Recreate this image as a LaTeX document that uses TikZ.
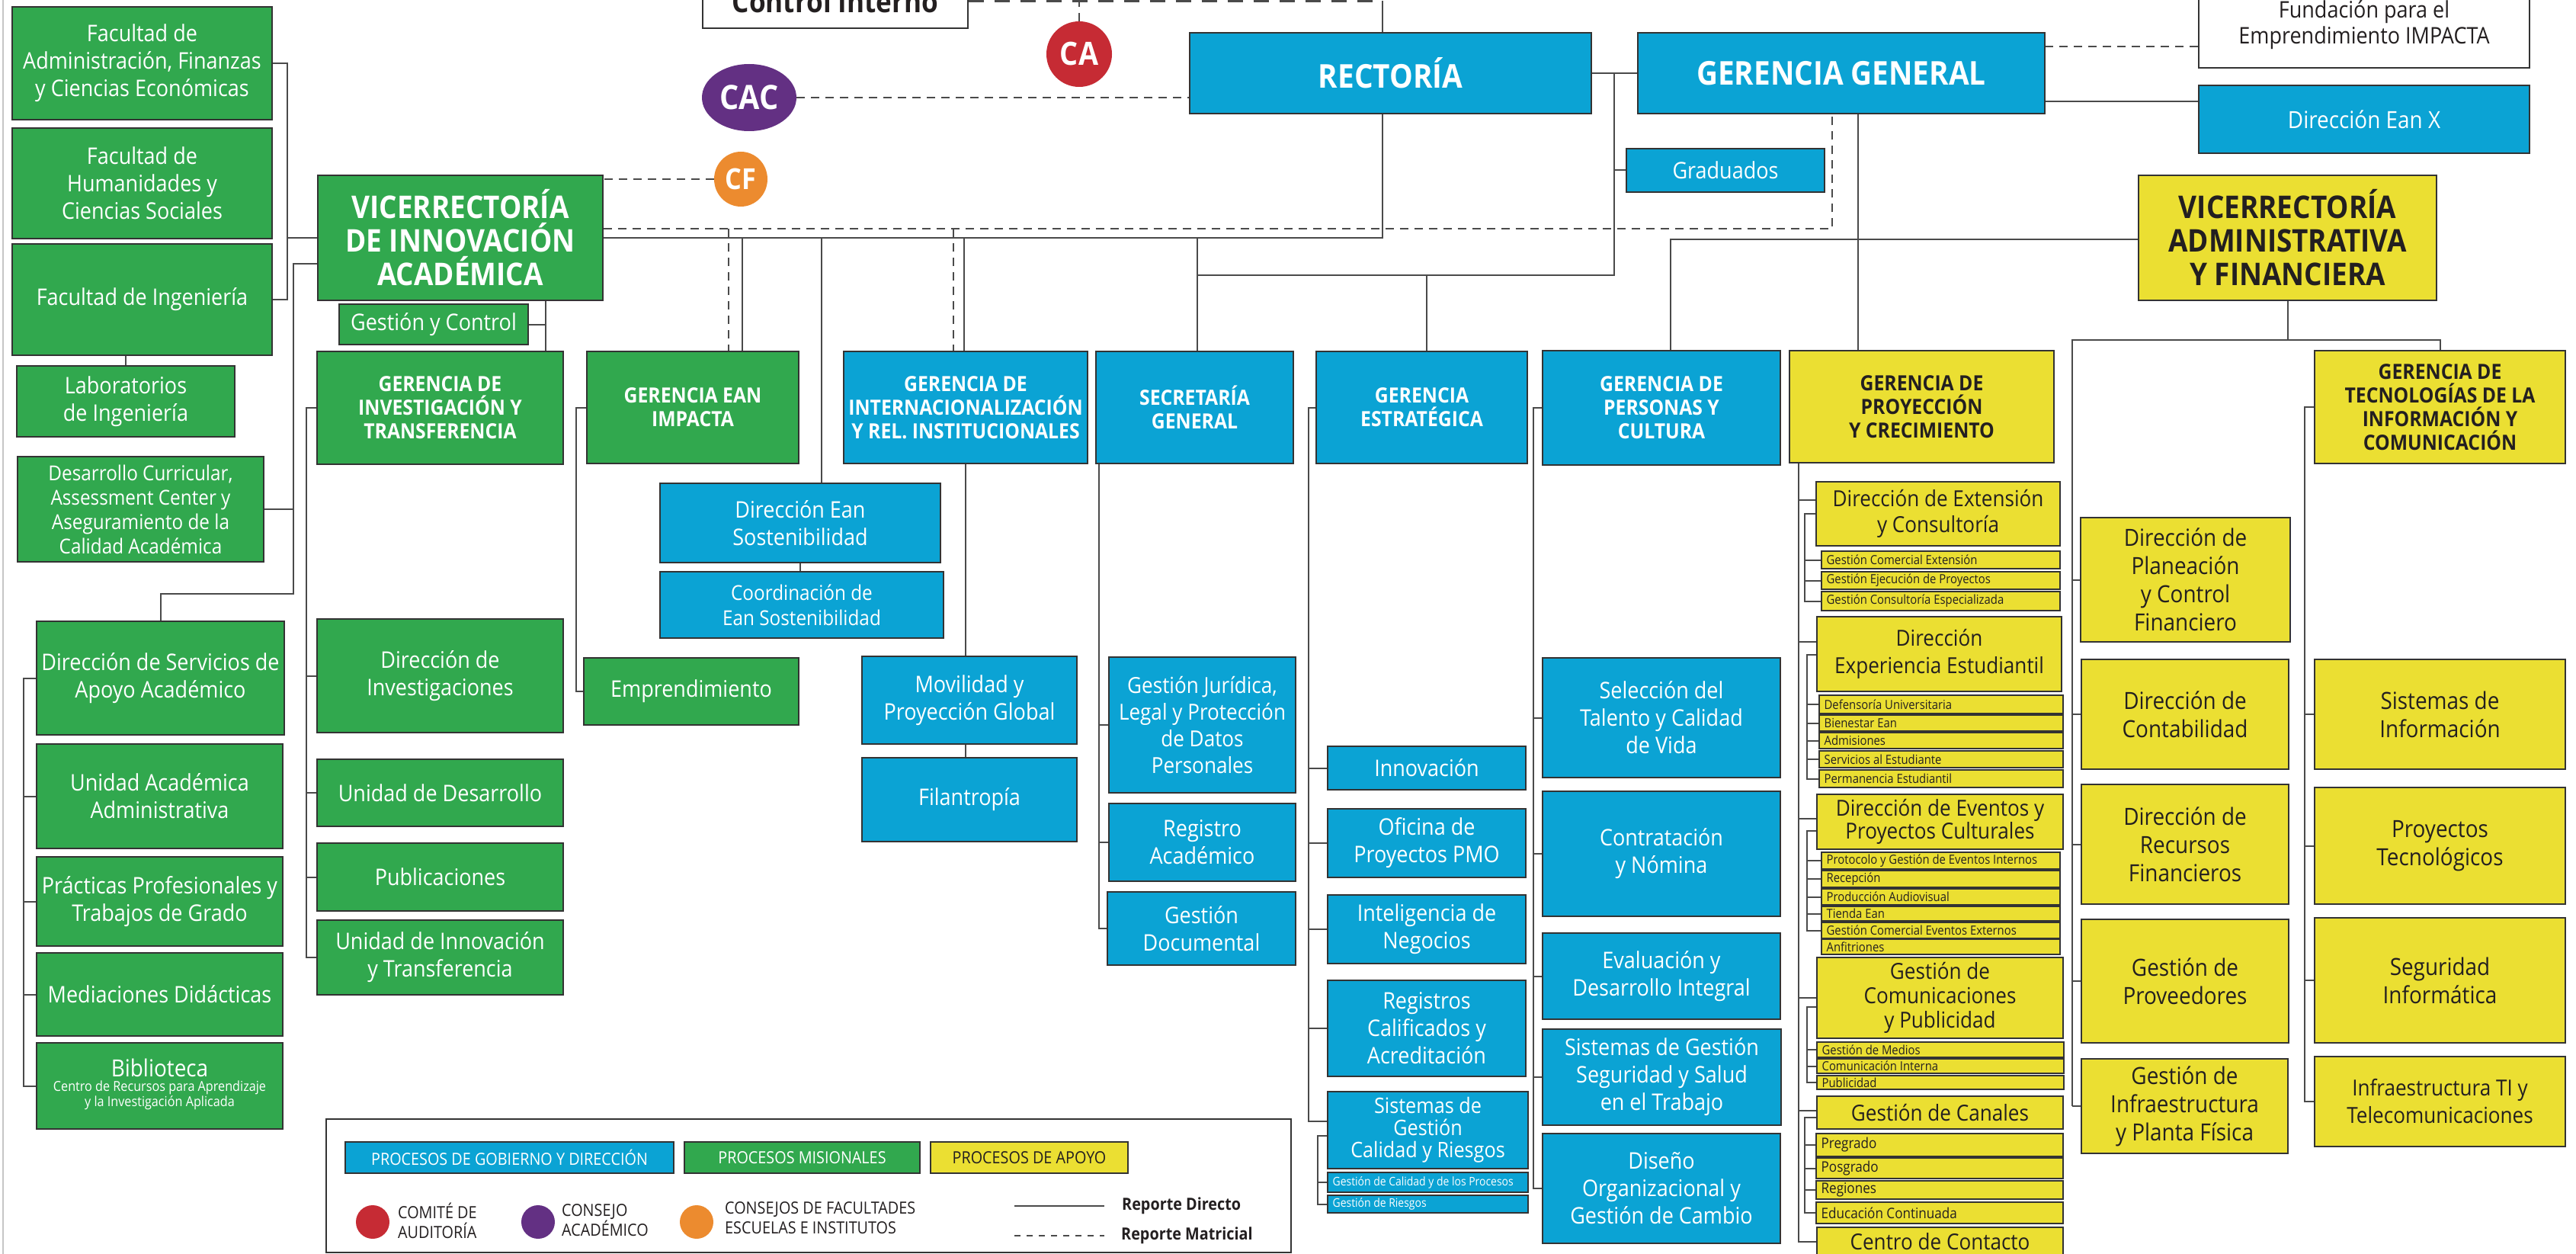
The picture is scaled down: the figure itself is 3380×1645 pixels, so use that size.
\documentclass[tikz,border=0pt]{standalone}
\usepackage{fontspec}
\setmainfont{Open Sans}[FakeStretch=0.9]
\usetikzlibrary{shapes.geometric}
\pgfdeclarelayer{bg}
\pgfsetlayers{bg,main}
\definecolor{cblue}{HTML}{0BA3D4}
\definecolor{cgreen}{HTML}{31A84E}
\definecolor{cyel}{HTML}{EBDF32}
\definecolor{cred}{HTML}{C62B34}
\definecolor{cpur}{HTML}{633083}
\definecolor{corg}{HTML}{EC8B2F}
\definecolor{ctxt}{HTML}{231F20}
\definecolor{bd}{HTML}{333333}
\definecolor{lc}{HTML}{4A4A4A}
\newcommand\fs[2]{\fontsize{#1}{#2}\selectfont}
\newcommand\bx[7]{\node[#6, minimum width={(#4)-(#2)}, minimum height={(#5)-(#3)}] (#1) at ({((#2)+(#4))/2},{((#3)+(#5))/2}) {#7};}
\newcommand\sbx[7]{\node[#6, minimum width={(#4)-(#2)}, minimum height={(#5)-(#3)}] (#1) at ({((#2)+(#4))/2},{((#3)+(#5))/2}) {};\node[anchor=west, inner sep=0pt, #6txt] (#1t) at ([xshift=7pt]#1.west) {#7};}
\begin{document}
\begin{tikzpicture}[x=1pt,y=-1pt,
  bb/.style={rectangle, draw=bd, line width=1.4pt, inner sep=1pt, align=center},
  gr/.style={bb, fill=cgreen, text=white, font=\fs{30}{36}},
  bl/.style={bb, fill=cblue, text=white, font=\fs{30}{36}},
  ye/.style={bb, fill=cyel, text=ctxt, font=\fs{30}{36}},
  yv/.style={bb, fill=cyel, text=ctxt, font=\fs{31}{37}},
  wh/.style={bb, fill=white, text=ctxt, font=\fs{30}{34}},
  hd/.style={font=\bfseries\fs{27.5}{31}},
  big/.style={font=\bfseries\fs{41}{44}},
  ys/.style={rectangle, draw=bd, line width=1.2pt, fill=cyel, inner sep=0pt},
  yc/.style={rectangle, draw=bd, line width=1.2pt, fill=cyel, inner sep=0pt},
  bs/.style={rectangle, draw=bd, line width=1.2pt, fill=cblue, inner sep=0pt},
  ystxt/.style={text=ctxt, font=\fs{16.5}{18}},
  yctxt/.style={text=ctxt, font=\fs{19}{20}},
  bstxt/.style={text=white, font=\fs{15.5}{17}},
  ltxt/.style={anchor=west, align=left, text=ctxt, font=\fs{22}{26}, inner sep=0pt},
  ln/.style={draw=lc, line width=2pt},
  dl/.style={draw=lc, line width=2pt, dash pattern=on 11pt off 8pt}]
\useasboundingbox (0,0) rectangle (3380,1645);
% ---------- green column ----------
\bx{fa}{16}{9}{357}{157}{gr}{Facultad de\\Administración, Finanzas\\y Ciencias Económicas}
\bx{fh}{16}{168}{357}{313}{gr}{Facultad de\\Humanidades y\\Ciencias Sociales}
\bx{fi}{16}{320}{357}{466}{gr}{Facultad de Ingeniería}
\bx{lab}{22}{480}{308}{573}{gr}{Laboratorios\\de Ingeniería}
\bx{dc}{23}{599}{346}{737}{gr,font=\fs{27}{32}}{Desarrollo Curricular,\\Assessment Center y\\Aseguramiento de la\\Calidad Académica}
\bx{ds}{48}{815}{373}{964}{gr}{Dirección de Servicios de\\Apoyo Académico}
\bx{ua}{48}{976}{371}{1113}{gr}{Unidad Académica\\Administrativa}
\bx{pp}{48}{1124}{371}{1241}{gr}{Prácticas Profesionales y\\Trabajos de Grado}
\bx{md}{48}{1250}{371}{1359}{gr}{Mediaciones Didácticas}
\bx{bib}{48}{1368}{371}{1481}{gr}{}
\node[text=white, font=\fs{31}{32}, inner sep=0pt] (bibt) at ([yshift=24pt]bib.center) {Biblioteca};
\node[text=white, font=\fs{18}{20}, align=center, inner sep=0pt] (bibs) at ([yshift=-12pt]bib.center) {Centro de Recursos para Aprendizaje\\y la Investigación Aplicada};
\bx{via}{417}{230}{791}{394}{gr,big}{VICERRECTORÍA\\DE INNOVACIÓN\\ACADÉMICA}
\bx{gyc}{445}{399}{693}{452}{gr}{Gestión y Control}
\bx{git}{416}{461}{739}{609}{gr,hd}{GERENCIA DE\\INVESTIGACIÓN Y\\TRANSFERENCIA}
\bx{di}{416}{812}{739}{961}{gr}{Dirección de\\Investigaciones}
\bx{ud}{416}{996}{739}{1084}{gr}{Unidad de Desarrollo}
\bx{pub}{416}{1106}{739}{1195}{gr}{Publicaciones}
\bx{uit}{416}{1207}{739}{1305}{gr}{Unidad de Innovación\\y Transferencia}
\bx{gei}{770}{461}{1048}{608}{gr,hd}{GERENCIA EAN\\IMPACTA}
\bx{emp}{766}{863}{1048}{951}{gr}{Emprendimiento}
% ---------- top ----------
\bx{ci}{922}{-34}{1270}{37}{wh,font=\bfseries\fs{39}{40}}{Control Interno}
\node[circle, fill=cred, minimum size=86pt, inner sep=0pt, text=white, font=\bfseries\fs{42}{42}] (ca) at (1416,71) {CA};
\node[ellipse, fill=cpur, minimum width=124pt, minimum height=88pt, inner sep=0pt, text=white, font=\bfseries\fs{44}{44}] (cac) at (983,128) {CAC};
\node[ellipse, fill=corg, minimum width=70pt, minimum height=72pt, inner sep=0pt, text=white, font=\bfseries\fs{38}{38}] (cf) at (972,235) {CF};
\bx{rect}{1561}{43}{2088}{149}{bl,font=\bfseries\fs{43}{44}}{RECTORÍA}
\bx{gg}{2149}{43}{2683}{149}{bl,font=\bfseries\fs{43}{44}}{GERENCIA GENERAL}
\bx{grad}{2134}{195}{2394}{252}{bl}{Graduados}
\bx{fund}{2885}{-24}{3319}{89}{wh}{Fundación para el\\Emprendimiento IMPACTA}
\bx{eanx}{2885}{112}{3319}{201}{bl,font=\fs{31}{36}}{Dirección Ean X}
\bx{vaf}{2806}{230}{3197}{394}{ye,big}{VICERRECTORÍA\\ADMINISTRATIVA\\Y FINANCIERA}
% ---------- blue columns ----------
\bx{girel}{1107}{461}{1427}{608}{bl,hd}{GERENCIA DE\\INTERNACIONALIZACIÓN\\Y REL. INSTITUCIONALES}
\bx{sg}{1438}{461}{1697}{608}{bl,hd}{SECRETARÍA\\GENERAL}
\bx{ge}{1727}{461}{2004}{608}{bl,hd}{GERENCIA\\ESTRATÉGICA}
\bx{gpy}{2024}{460}{2336}{610}{bl,hd}{GERENCIA DE\\PERSONAS Y\\CULTURA}
\bx{des}{866}{634}{1234}{738}{bl}{Dirección Ean\\Sostenibilidad}
\bx{coord}{866}{750}{1238}{837}{bl,font=\fs{27}{33}}{Coordinación de\\Ean Sostenibilidad}
\bx{mov}{1131}{861}{1413}{976}{bl}{Movilidad y\\Proyección Global}
\bx{fil}{1131}{994}{1413}{1104}{bl}{Filantropía}
\bx{gj}{1455}{862}{1700}{1040}{bl,font=\fs{29}{35}}{Gestión Jurídica,\\Legal y Protección\\de Datos\\Personales}
\bx{ra}{1455}{1054}{1700}{1156}{bl}{Registro\\Académico}
\bx{gd}{1453}{1170}{1700}{1266}{bl}{Gestión\\Documental}
\bx{inn}{1742}{979}{2002}{1036}{bl}{Innovación}
\bx{pmo}{1742}{1061}{2002}{1151}{bl}{Oficina de\\Proyectos PMO}
\bx{ign}{1742}{1174}{2002}{1264}{bl}{Inteligencia de\\Negocios}
\bx{rca}{1742}{1286}{2002}{1412}{bl}{Registros\\Calificados y\\Acreditación}
\bx{sgc}{1742}{1432}{2005}{1533}{bl,font=\fs{28}{29}}{Sistemas de\\Gestión\\Calidad y Riesgos}
\sbx{gcp}{1742}{1538}{2005}{1564}{bs}{Gestión de Calidad y de los Procesos}
\sbx{gri}{1742}{1568}{2005}{1591}{bs}{Gestión de Riesgos}
\bx{sel}{2024}{863}{2336}{1020}{bl}{Selección del\\Talento y Calidad\\de Vida}
\bx{con}{2024}{1038}{2336}{1202}{bl}{Contratación\\y Nómina}
\bx{eva}{2024}{1224}{2336}{1337}{bl}{Evaluación y\\Desarrollo Integral}
\bx{sst}{2024}{1350}{2337}{1476}{bl}{Sistemas de Gestión\\Seguridad y Salud\\en el Trabajo}
\bx{dis}{2024}{1487}{2336}{1631}{bl}{Diseño\\Organizacional y\\Gestión de Cambio}
% ---------- yellow ----------
\bx{gpc}{2348}{460}{2695}{607}{ye,hd}{GERENCIA DE\\PROYECCIÓN\\Y CRECIMIENTO}
\bx{gtic}{3037}{460}{3366}{608}{ye,hd}{GERENCIA DE\\TECNOLOGÍAS DE LA\\INFORMACIÓN Y\\COMUNICACIÓN}
\bx{dext}{2383}{632}{2703}{716}{ye,font=\fs{29}{34}}{Dirección de Extensión\\y Consultoría}
\sbx{gce}{2390}{723}{2703}{746}{ys}{Gestión Comercial Extensión}
\sbx{gep}{2390}{750}{2703}{773}{ys}{Gestión Ejecución de Proyectos}
\sbx{gco}{2390}{776}{2703}{801}{ys}{Gestión Consultoría Especializada}
\bx{dexp}{2384}{809}{2705}{907}{ye,font=\fs{29}{36}}{Dirección\\Experiencia Estudiantil}
\sbx{dfu}{2387}{912}{2707}{936}{ys}{Defensoría Universitaria}
\sbx{bie}{2387}{938}{2707}{959}{ys}{Bienestar Ean}
\sbx{adm}{2387}{961}{2707}{982}{ys}{Admisiones}
\sbx{sae}{2387}{985}{2707}{1007}{ys}{Servicios al Estudiante}
\sbx{pes}{2387}{1010}{2707}{1033}{ys}{Permanencia Estudiantil}
\bx{dev}{2384}{1042}{2707}{1114}{ye,font=\fs{29}{30}}{Dirección de Eventos y\\Proyectos Culturales}
\sbx{pro}{2390}{1118}{2703}{1140}{ys}{Protocolo y Gestión de Eventos Internos}
\sbx{rcp}{2390}{1142}{2703}{1164}{ys}{Recepción}
\sbx{pau}{2390}{1166}{2703}{1187}{ys}{Producción Audiovisual}
\sbx{tea}{2390}{1189}{2703}{1208}{ys}{Tienda Ean}
\sbx{gcee}{2390}{1210}{2703}{1231}{ys}{Gestión Comercial Eventos Externos}
\sbx{anf}{2390}{1232}{2703}{1252}{ys}{Anfitriones}
\bx{gcom}{2384}{1256}{2707}{1362}{ye,font=\fs{29}{32}}{Gestión de\\Comunicaciones\\y Publicidad}
\sbx{gme}{2384}{1367}{2708}{1387}{ys}{Gestión de Medios}
\sbx{cin}{2384}{1389}{2708}{1408}{ys}{Comunicación Interna}
\sbx{pubi}{2384}{1411}{2708}{1429}{ys}{Publicidad}
\bx{gcan}{2384}{1438}{2707}{1481}{ye,font=\fs{29}{32}}{Gestión de Canales}
\sbx{prg}{2383}{1487}{2707}{1517}{yc}{Pregrado}
\sbx{psg}{2383}{1519}{2707}{1546}{yc}{Posgrado}
\sbx{rgn}{2383}{1549}{2707}{1573}{yc}{Regiones}
\sbx{edu}{2383}{1577}{2707}{1605}{yc}{Educación Continuada}
\bx{cc}{2384}{1610}{2707}{1647}{ye,font=\fs{29}{32}}{Centro de Contacto}
\bx{dpl}{2730}{679}{3005}{842}{yv}{Dirección de\\Planeación\\y Control\\Financiero}
\bx{dco}{2731}{865}{3003}{1009}{yv}{Dirección de\\Contabilidad}
\bx{drf}{2731}{1029}{3003}{1186}{yv}{Dirección de\\Recursos\\Financieros}
\bx{gpr}{2731}{1206}{3003}{1368}{yv}{Gestión de\\Proveedores}
\bx{gif}{2731}{1389}{3002}{1513}{yv}{Gestión de\\Infraestructura\\y Planta Física}
\bx{sdi}{3037}{865}{3366}{1009}{yv}{Sistemas de\\Información}
\bx{ptec}{3037}{1033}{3366}{1186}{yv}{Proyectos\\Tecnológicos}
\bx{sinf}{3037}{1204}{3366}{1368}{yv}{Seguridad\\Informática}
\bx{iti}{3037}{1386}{3366}{1504}{yv,font=\fs{29}{36}}{Infraestructura TI y\\Telecomunicaciones}
% ---------- legend ----------
\bx{lg}{428}{1468}{1694}{1643}{rectangle, draw=bd, line width=1.4pt, fill=white}{}
\bx{lgob}{453}{1498}{884}{1539}{bl,font=\fs{22}{24}}{PROCESOS DE GOBIERNO Y DIRECCIÓN}
\bx{lmis}{898}{1498}{1207}{1539}{gr,font=\fs{22}{24}}{PROCESOS MISIONALES}
\bx{lapo}{1221}{1498}{1480}{1539}{ye,font=\fs{22}{24}}{PROCESOS DE APOYO}
\node[circle, fill=cred, minimum size=44pt, inner sep=0pt] (lca) at (489,1603) {};
\node[ltxt] (lcat) at (522,1601) {COMITÉ DE\\AUDITORÍA};
\node[circle, fill=cpur, minimum size=44pt, inner sep=0pt] (lcac) at (706,1603) {};
\node[ltxt] (lcact) at (737,1601) {CONSEJO\\ACADÉMICO};
\node[circle, fill=corg, minimum size=44pt, inner sep=0pt] (lcf) at (914,1603) {};
\node[ltxt] (lcft) at (951,1598) {CONSEJOS DE FACULTADES\\ESCUELAS E INSTITUTOS};
\coordinate (lr1) at (1331,1582); \coordinate (lr2) at (1449,1582);
\coordinate (lm1) at (1331,1621); \coordinate (lm2) at (1449,1621);
\node[anchor=west, font=\bfseries\fs{22}{24}, text=ctxt, inner sep=0pt] (lrdt) at (1472,1582) {Reporte Directo};
\node[anchor=west, font=\bfseries\fs{22}{24}, text=ctxt, inner sep=0pt] (lrmt) at (1471,1621) {Reporte Matricial};
\draw[ln, line width=2.5pt] (lr1) -- (lr2);
\draw[dl, dash pattern=on 8pt off 8pt] (lm1) -- (lm2);
% ---------- background and connectors ----------
\begin{pgfonlayer}{bg}
\fill[white] (0,0) rectangle (3380,1645);
\draw[draw=gray!45, line width=2pt] (4,0) -- (4,1645);
% faculties
\coordinate (fbx) at (377,200);
\draw[ln] (fa.east) -| (fbx) |- (fi.east);
\draw[ln] (via.west) -- (via.west -| fbx);
\draw[ln] (lab.north) -- (lab.north |- fi.south);
% VIA to GIT and Gestion y Control
\coordinate (vg) at (716,420);
\draw[ln] (via.south -| vg) -- (git.north -| vg);
\draw[ln] (gyc.east) -- (gyc.east -| vg);
% VIA to DS
\coordinate (vw) at (385,346);
\coordinate (vb) at (385,779);
\draw[ln] (vw -| via.west) -- (vw) -- (vb) -| (ds.north);
\draw[ln] (dc.east) -- (dc.east -| vb);
\coordinate (dsb) at (31,900);
\draw[ln] (ds.west) -| (bib.west -| dsb) -- (bib.west);
\foreach \n in {ua,pp,md} \draw[ln] (\n.west) -- (\n.west -| dsb);
\coordinate (gb) at (402,600);
\draw[ln] (git.west) -| (uit.west -| gb) -- (uit.west);
\foreach \n in {di,ud,pub} \draw[ln] (\n.west) -- (\n.west -| gb);
\coordinate (eb) at (756,600);
\draw[ln] (gei.west) -| (emp.west -| eb) -- (emp.west);
% main horizontal from VIA to Rectoria
\coordinate (rv) at (1814,312);
\draw[ln] (via.east) -- (rv) -- (rv |- rect.south);
\coordinate (v1) at (974,312); \draw[ln] (v1) -- (v1 |- gei.north);
\coordinate (v2) at (1078,312); \draw[ln] (v2) -- (v2 |- des.north);
\coordinate (v3) at (1265,312); \draw[ln] (v3) -- (v3 |- girel.north);
\coordinate (v4) at (1571,312); \draw[ln] (v4) -- (v4 |- sg.north);
\coordinate (h2a) at (1571,361); \coordinate (h2b) at (2118,361);
\coordinate (h2c) at (2118,96);
\draw[ln] (h2a) -- (h2b) -- (h2c);
\draw[ln] (rect.east) -- (gg.west);
\draw[ln] (grad.west) -- (grad.west -| h2b);
\coordinate (v5) at (1872,361); \draw[ln] (v5) -- (v5 |- ge.north);
% Gerencia General
\coordinate (g1) at (2438,300); \draw[ln] (g1 |- gg.south) -- (g1 |- gpc.north);
\coordinate (g2) at (2192,314); \draw[ln] (g2 |- gpy.north) -- (g2) -- (g2 -| vaf.west);
\coordinate (exj) at (2683,133); \draw[ln] (exj) -- (exj -| eanx.west);
% VAF
\coordinate (vl) at (2719,446);
\coordinate (vr) at (3202,446);
\draw[ln] (vaf.south) -- (vaf.south |- vl);
\draw[ln] (vl |- gif.west) -- (vl) -- (vr) -- (vr |- gtic.north);
\foreach \n in {dpl,dco,drf,gpr,gif} \draw[ln] (\n.west) -- (\n.west -| vl);
\coordinate (tb) at (3024,600);
\draw[ln] (gtic.west) -| (iti.west -| tb) -- (iti.west);
\foreach \n in {sdi,ptec,sinf} \draw[ln] (\n.west) -- (\n.west -| tb);
% GIREL, Ean sostenibilidad
\draw[ln] (girel.south) -- (girel.south |- mov.north);
\draw[ln] (mov.south -| girel.south) -- (fil.north -| girel.south);
\draw[ln] (des.south) -- (des.south |- coord.north);
% Secretaria General
\coordinate (sgb) at (1442,700);
\draw[ln] (sg.south -| sgb) |- (gd.west);
\foreach \n in {gj,ra} \draw[ln] (\n.west) -- (\n.west -| sgb);
% Gerencia Estrategica
\coordinate (geb) at (1717,1471);
\draw[ln] (ge.west) -| (geb) -- (geb -| sgc.west);
\foreach \n in {inn,pmo,ign,rca} \draw[ln] (\n.west) -- (\n.west -| geb);
\coordinate (ges) at (1729,1490);
\draw[ln] (ges -| sgc.west) -- (ges) |- (gri.west);
\draw[ln] (gcp.west) -- (gcp.west -| ges);
% Personas y Cultura
\coordinate (pyb) at (2012,700);
\draw[ln] (gpy.west) -| (dis.west -| pyb) -- (dis.west);
\foreach \n in {sel,con,eva,sst} \draw[ln] (\n.west) -- (\n.west -| pyb);
% Proyeccion y Crecimiento
\coordinate (pcb) at (2360,607);
\draw[ln] (pcb) |- (cc.west);
\coordinate (pb1) at (2360,656); \draw[ln] (pb1) -- (pb1 -| dext.west);
\coordinate (pb2) at (2360,842); \draw[ln] (pb2) -- (pb2 -| dexp.west);
\coordinate (pb3) at (2360,1074); \draw[ln] (pb3) -- (pb3 -| dev.west);
\draw[ln] (gcom.west) -- (gcom.west -| pcb);
\coordinate (pb5) at (2360,1457); \draw[ln] (pb5) -- (pb5 -| gcan.west);
\coordinate (s1) at (2368,674);
\draw[ln] (s1 -| dext.west) -- (s1) |- (gco.west);
\foreach \n in {gce,gep} \draw[ln] (\n.west) -- (\n.west -| s1);
\coordinate (s2) at (2371,859);
\draw[ln] (s2 -| dexp.west) -- (s2) |- (pes.west);
\foreach \n in {dfu,bie,adm,sae} \draw[ln] (\n.west) -- (\n.west -| s2);
\coordinate (s3) at (2371,1090);
\draw[ln] (s3 -| dev.west) -- (s3) |- (gcee.west);
\foreach \n in {pro,rcp,pau,tea} \draw[ln] (\n.west) -- (\n.west -| s3);
\coordinate (s4) at (2371,1321);
\draw[ln] (s4 -| gcom.west) -- (s4) |- (pubi.west);
\foreach \n in {gme,cin} \draw[ln] (\n.west) -- (\n.west -| s4);
\coordinate (s5) at (2368,1466);
\draw[ln] (s5 -| gcan.west) -- (s5) |- (edu.west);
\foreach \n in {prg,psg,rgn} \draw[ln] (\n.west) -- (\n.west -| s5);
% dashed (matricial)
\coordinate (ct) at (1814,1.5);
\draw[dl, line width=3pt, dash pattern=on 20pt off 14pt] (ci.east) -- (ct);
\draw[ln] (ct) -- (ct |- rect.north);
\draw[dl] (ca.north) -- (ca.north |- ct);
\draw[dl] (cac.east) -- (cac.east -| rect.west);
\draw[dl] (cf.west) -- (cf.west -| via.east);
\coordinate (dm) at (2404,300);
\draw[dl] (dm -| via.east) -- (dm) -- (dm |- gg.south);
\coordinate (d1) at (956,300); \draw[dl] (d1) -- (d1 |- gei.north);
\coordinate (d2) at (1251,300); \draw[dl] (d2) -- (d2 |- girel.north);
\coordinate (fd) at (2683,61); \draw[dl] (fd) -- (fd -| fund.west);
\end{pgfonlayer}
\end{tikzpicture}
\end{document}
